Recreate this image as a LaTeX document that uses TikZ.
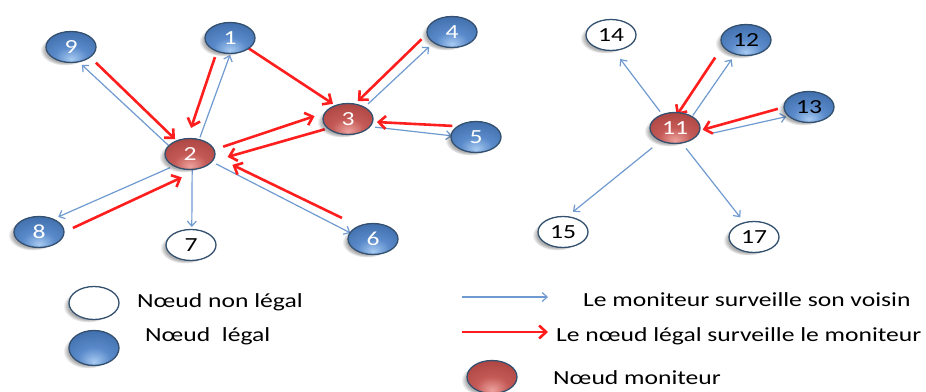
\documentclass[tikz,border=0pt]{standalone}
\usepackage{fontspec}
\setmainfont{Carlito}[FakeStretch=1.28]
\usetikzlibrary{calc,shapes.geometric,arrows.meta,shadows,fadings,backgrounds}

\definecolor{legalD}{HTML}{3966A3}
\definecolor{legalM}{HTML}{5A8ACA}
\definecolor{legalL}{HTML}{A8CBF2}
\definecolor{monD}{HTML}{A53F3C}
\definecolor{monM}{HTML}{C45A56}
\definecolor{monL}{HTML}{EDA29E}
\definecolor{rimcol}{HTML}{34506F}
\definecolor{watchcol}{HTML}{6F9AD0}
\definecolor{reportcol}{HTML}{FF1E1E}

\pgfdeclareradialshading{legalball}{\pgfpoint{0bp}{-20bp}}{color(0bp)=(legalL); color(16bp)=(legalM); color(42bp)=(legalD); color(70bp)=(legalD)}
\pgfdeclareradialshading{monitorball}{\pgfpoint{0bp}{-20bp}}{color(0bp)=(monL); color(16bp)=(monM); color(42bp)=(monD); color(70bp)=(monD)}

\tikzset{
  nodebase/.style={ellipse, minimum width=50pt, minimum height=31pt, inner sep=0pt,
    line width=1.3pt, draw=rimcol, font=\fontsize{20}{20}\selectfont,
    drop shadow={shadow xshift=-6pt, shadow yshift=-3pt, fill=black, opacity=.3,
      path fading=circle with fuzzy edge 20 percent}},
  legal/.style={nodebase, shade, shading=legalball, text=white},
  legaldark/.style={legal, text=black},
  monitor/.style={nodebase, shade, shading=monitorball, text=white},
  illegal/.style={nodebase, fill=white, text=black},
  watch/.style={draw=watchcol, line width=1.2pt, -{Straight Barb[length=5pt,width=9pt]}},
  report/.style={draw=reportcol, line width=2.6pt, -{Straight Barb[length=7pt,width=13pt]}},
  legendtext/.style={anchor=west, inner sep=0pt, font=\fontsize{20}{20}\selectfont, text=black}
}

% connector from #2 to #3: start gap/offset #4/#5, end gap/offset #6/#7
\newcommand\conn[7]{%
  \draw[#1] ($(#2)!#4pt!(#3)!#5pt!90:(#3)$) -- ($(#3)!#6pt!(#2)!#7pt!-90:(#2)$);}

\begin{document}
\begin{tikzpicture}[x=1pt,y=-1pt]
\useasboundingbox (0,0) rectangle (926,391);

% left cluster
\node[legal]   (n1) at (230,38)  {1};
\node[monitor] (n2) at (190,154) {2};
\node[monitor] (n3) at (348,119) {3};
\node[legal]   (n4) at (452,32)  {4};
\node[legal]   (n5) at (476,137) {5};
\node[legal]   (n6) at (373,239) {6};
\node[illegal] (n7) at (191,245) {7};
\node[legal]   (n8) at (39,232)  {8};
\node[legal]   (n9) at (71,47)   {9};

% right cluster
\node[monitor]   (n11) at (675,128) {11};
\node[legaldark] (n12) at (746,40)  {12};
\node[legaldark] (n13) at (809,107) {13};
\node[illegal]   (n14) at (611,35)  {14};
\node[illegal]   (n15) at (563,232) {15};
\node[illegal]   (n17) at (754,237) {17};

% legend
\node[illegal, minimum height=33pt] (kill) at (94,303) {};
\node[legal, minimum height=35pt]   (klegal) at (94,348) {};
\node[monitor, minimum height=33pt] (kmon) at (492,377) {};
\node[legendtext] (tkill)  at (137,302) {Nœud non légal};
\node[legendtext] (tklegal) at (145,336) {Nœud~~légal};
\node[legendtext] (tkwatch) at (583,300) {Le moniteur surveille son voisin};
\node[legendtext] (tkrep)  at (556,336) {Le nœud légal surveille le moniteur};
\node[legendtext] (tkmon)  at (553,378) {Nœud moniteur};
\coordinate (kw1) at (462,297);
\coordinate (kw2) at (548,297);
\coordinate (kr1) at (462,332);
\coordinate (kr2) at (548,332);

\begin{pgfonlayer}{background}
  % monitors watching their neighbours
  \conn{watch}{n2}{n9}{22}{8}{20}{6}
  \conn{watch}{n2}{n1}{19}{-4}{16}{-5.5}
  \conn{watch}{n2}{n8}{24}{3}{24}{-4.6}
  \conn{watch}{n2}{n7}{16}{2}{18}{1}
  \conn{watch}{n2}{n6}{28}{2}{23}{-4}
  \conn{watch}{n3}{n4}{25}{-1.3}{27}{3.3}
  \conn{watch}{n3}{n5}{28}{-4.3}{24}{-2.2}
  \conn{watch}{n11}{n14}{22}{3}{25}{6}
  \conn{watch}{n11}{n12}{21}{-6}{24}{-1}
  \conn{watch}{n11}{n13}{35}{-11}{24}{-6}
  \conn{watch}{n11}{n15}{30}{-1}{21}{-8}
  \conn{watch}{n11}{n17}{23}{-3}{24}{0.4}
  % legal nodes watching the monitors
  \conn{report}{n9}{n2}{29}{5}{21}{1}
  \conn{report}{n1}{n2}{23}{-8}{25}{-7.5}
  \conn{report}{n8}{n2}{32}{-12}{18}{-17}
  \conn{report}{n6}{n2}{37}{-6}{43}{-8}
  \conn{report}{n1}{n3}{21}{2}{21}{4}
  \conn{report}{n4}{n3}{28}{-14}{19}{-7.4}
  \conn{report}{n5}{n3}{25}{-7.7}{29}{-1}
  \conn{report}{n2}{n3}{34}{0}{32}{10}
  \conn{report}{n3}{n2}{25}{5}{36}{11}
  \conn{report}{n12}{n11}{33}{-13}{11}{-6.6}
  \conn{report}{n13}{n11}{31}{-3}{27}{6}
\end{pgfonlayer}

\draw[watch] (kw1) -- (kw2);
\draw[report] (kr1) -- (kr2);
\end{tikzpicture}
\end{document}
